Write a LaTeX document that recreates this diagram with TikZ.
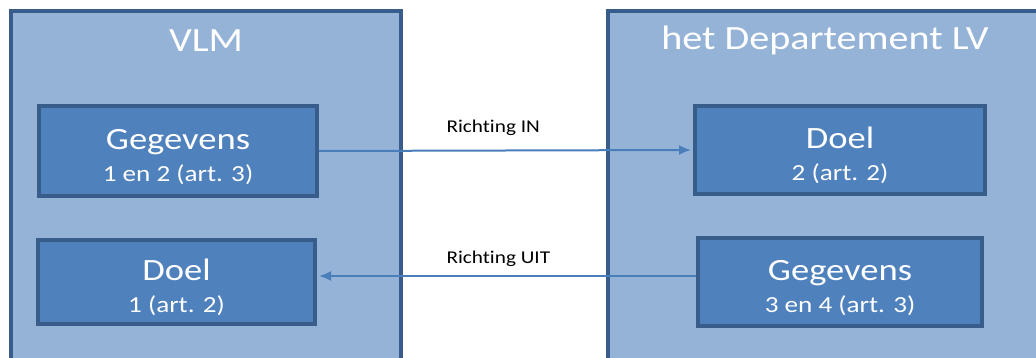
\documentclass[tikz,border=0pt]{standalone}
\usepackage{fontspec}
\setmainfont{Carlito}[FakeStretch=1.18,Ligatures=NoCommon]
\usetikzlibrary{arrows.meta}
\definecolor{outerfill}{HTML}{95B3D7}
\definecolor{boxfill}{HTML}{4F81BD}
\definecolor{boxline}{HTML}{385D8A}
\definecolor{arrowcol}{HTML}{4A7EBB}
\newcommand{\boxhead}[1]{\rule{0pt}{32pt}{\fontsize{31}{32}\selectfont #1}}

\begin{document}
\begin{tikzpicture}[x=1pt,y=-1pt,>={Latex[length=12pt,width=10pt]},
party/.style={draw=boxline,fill=outerfill,line width=4pt,inner sep=0pt},
title/.style={text=white,anchor=base,font=\fontsize{34}{40}\selectfont},
block/.style={draw=boxline,fill=boxfill,line width=4pt,text=white,align=center,inner sep=0pt,font=\fontsize{23}{32}\selectfont},
flow/.style={->,draw=arrowcol,line width=2pt,shorten >=2pt},
lbl/.style={anchor=base west,font=\fontsize{18}{20}\selectfont}]
\useasboundingbox (0,0) rectangle (1036,358);
\clip (0,0) rectangle (1036,358);
\node[party,minimum width=390pt,minimum height=370pt] (vlm) at (206,196) {};
\node[party,minimum width=432pt,minimum height=370pt] (dlv) at (824,196) {};
\node[title] (vlmtitle) at (206,52) {VLM};
\node[title] (dlvtitle) at (825,50) {het Departement LV};
\node[block,minimum width=278pt,minimum height=90pt] (gegvlm) at (178,151) {\boxhead{Gegevens}\\1 en 2 (art. 3)};
\node[block,minimum width=277pt,minimum height=84pt] (doelvlm) at (176.5,282) {\boxhead{Doel}\\1 (art. 2)};
\node[block,minimum width=290pt,minimum height=88pt] (doeldlv) at (840,150) {\boxhead{Doel}\\2 (art. 2)};
\node[block,minimum width=284pt,minimum height=88pt] (gegdlv) at (840,282) {\boxhead{Gegevens}\\3 en 4 (art. 3)};
\node[lbl] (richtingin) at (443,133) {Richting IN};
\node[lbl] (richtinguit) at (443,263) {Richting UIT};
\draw[flow] (gegvlm.east) -- (doeldlv.west);
\draw[flow] ([yshift=6pt]gegdlv.west) -- ([yshift=6pt]doelvlm.east);
\end{tikzpicture}
\end{document}
